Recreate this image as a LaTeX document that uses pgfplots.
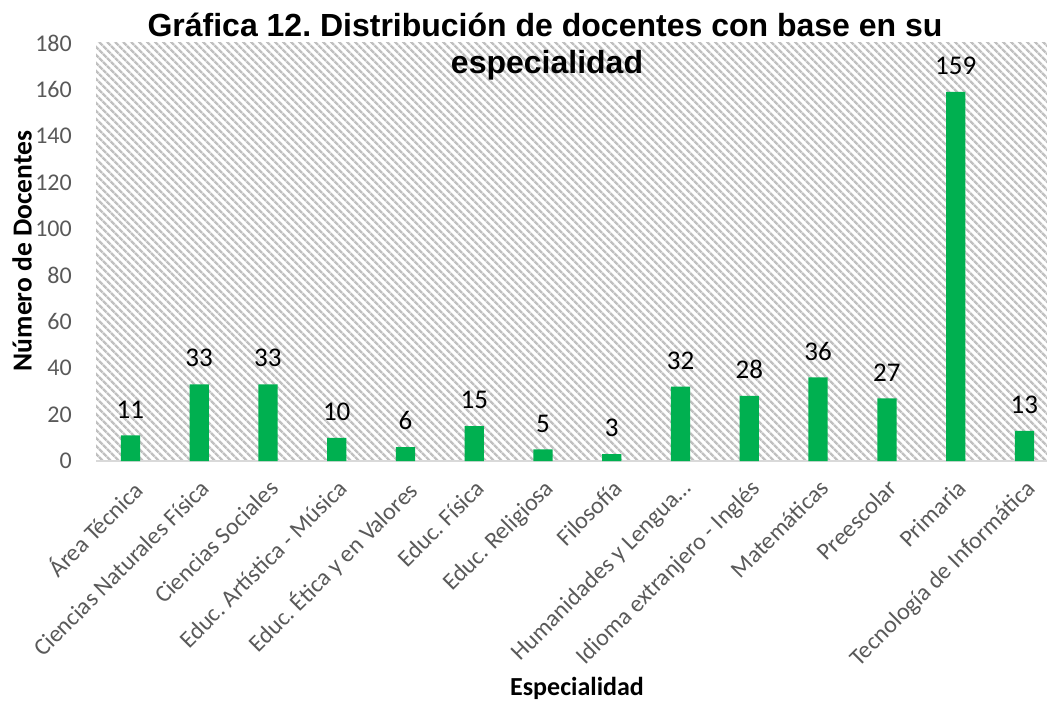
\documentclass[border=0pt]{standalone}
\usepackage{fontspec}
\setmainfont{Carlito}
\newfontfamily\arialfont{Liberation Sans}
\usepackage{pgfplots}
\pgfplotsset{compat=1.18}
\usetikzlibrary{patterns.meta}
\definecolor{barg}{HTML}{00B050}
\definecolor{tickgray}{HTML}{595959}
\definecolor{hatchc}{HTML}{C0C0C0}
\definecolor{axisline}{HTML}{D9D9D9}
\frenchspacing
\begin{document}
\begin{tikzpicture}[x=1pt,y=1pt]
\useasboundingbox (0,0) rectangle (1047,702);
\begin{axis}[
  at={(96pt,241pt)}, anchor=south west,
  scale only axis, width=962.8pt, height=418pt,
  xmin=-0.5, xmax=13.5, ymin=0, ymax=180,
  ybar, bar width=0.28,
  ytick={0,20,...,180},
  xtick={0,...,13},
  xticklabels={Área Técnica, Ciencias Naturales Física, Ciencias Sociales, Educ. Artística - Música, Educ. Ética y en Valores, Educ. Física, Educ. Religiosa, Filosofía, Humanidades y Lengua…, Idioma extranjero - Inglés, Matemáticas, Preescolar, Primaria, Tecnología de Informática},
  axis background/.style={pattern={Lines[angle=-45,distance=5.4pt,line width=2.6pt]}, pattern color=hatchc},
  axis x line*=bottom, axis y line*=left,
  x axis line style={draw=axisline, line width=2pt, -},
  y axis line style={draw=none},
  major tick length=0pt,
  /pgf/number format/assume math mode=true,
  yticklabel style={font=\fontsize{24}{28}\selectfont, text=tickgray, anchor=east, inner sep=0pt, xshift=-24pt},
  xticklabel style={font=\fontsize{24}{28}\selectfont, text=tickgray, rotate=45, anchor=north east, inner sep=0pt},
  xticklabel shift=17pt,
  nodes near coords,
  nodes near coords style={font=\fontsize{27}{32}\selectfont, text=black, inner sep=0pt, anchor=south, yshift=17pt},
]
\addplot[fill=barg, draw=none] coordinates {(0,11) (1,33) (2,33) (3,10) (4,6) (5,15) (6,5) (7,3) (8,32) (9,28) (10,36) (11,27) (12,159) (13,13)};
\end{axis}
\node[anchor=base, font=\arialfont\bfseries\fontsize{32}{38}\selectfont] at (545,665) {Gráfica 12. Distribución de docentes con base en su};
\node[anchor=base, font=\arialfont\bfseries\fontsize{32}{38}\selectfont] at (547,628) {especialidad};
\node[rotate=90, inner sep=0pt, font=\bfseries\fontsize{27.5}{32}\selectfont] at (22,451) {Número de Docentes};
\node[font=\bfseries\fontsize{26}{31}\selectfont] at (577,14) {Especialidad};
\end{tikzpicture}
\end{document}
